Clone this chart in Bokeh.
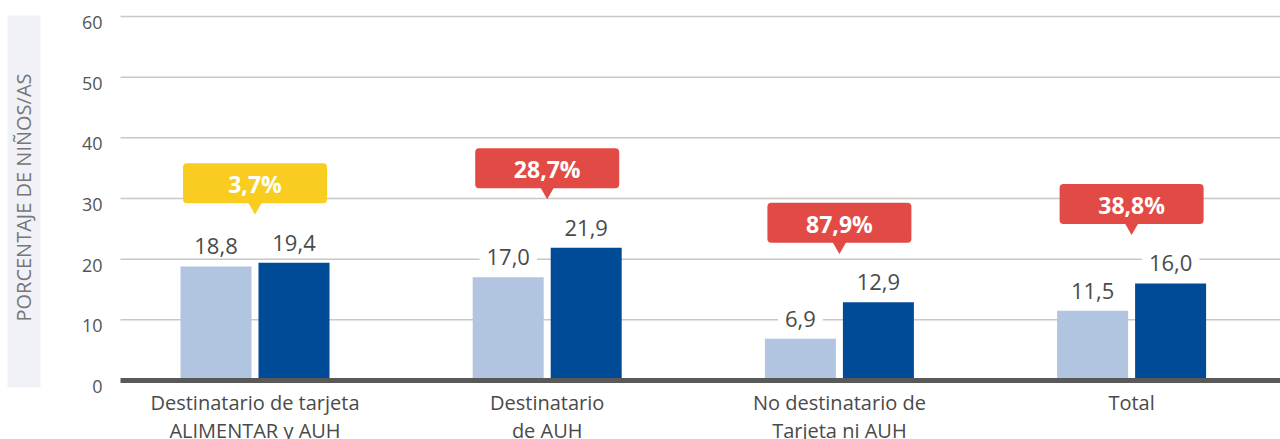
from bokeh.plotting import figure
from bokeh.models import Range1d
from bokeh.core.properties import value
from bokeh.embed import file_html
from bokeh.resources import INLINE
import math

# ---------------- data ----------------
categories = ["Destinatario de tarjeta\nALIMENTAR y AUH",
              "Destinatario\nde AUH",
              "No destinatario de\nTarjeta ni AUH",
              "Total"]
serie_a = [18.8, 17.0, 6.9, 11.5]      # light bars
serie_b = [19.4, 21.9, 12.9, 16.0]     # dark bars
variacion = ["3,7%", "28,7%", "87,9%", "38,8%"]
callout_colors = ["#f9cd1f", "#e24b45", "#e24b45", "#e24b45"]
y_ticks = [0, 10, 20, 30, 40, 50, 60]
y_title = "PORCENTAJE DE NIÑOS/AS"

# ---------------- layout (page pixels) ----------------
W, H = 1280, 439
PX_PER_CAT = 292.2
CAT1_PX = 254.5
ZERO_PY = 380.0
PX_PER_UNIT = 364.0 / 60.0

def x_at(px):
    return 1 + (px - CAT1_PX) / PX_PER_CAT

def y_at(py):
    return (ZERO_PY - py) / PX_PER_UNIT

LIGHT = "#b1c4e0"
DARK = "#004b97"
TXT = "#4a4a4a"
FONT = value("Open Sans")

xr = Range1d(x_at(0), x_at(W))
yr = Range1d(y_at(H), y_at(0))

p = figure(width=W, height=H, x_range=xr, y_range=yr,
           output_backend="svg", toolbar_location=None,
           x_axis_location=None, y_axis_location=None,
           min_border=0, outline_line_color=None,
           background_fill_color="white", border_fill_color="white")
for g in p.grid:
    g.visible = False

xs = [i + 1 for i in range(len(categories))]
off = 39.0 / PX_PER_CAT
bw = 71.0 / PX_PER_CAT
x_left = x_at(120)

# y-title box
p.quad(left=[x_at(7)], right=[x_at(40)], top=[y_at(15)], bottom=[y_at(387)],
       fill_color="#f1f2f8", line_color=None)
p.text(x=[x_at(23)], y=[y_at(197)], text=[y_title], angle=math.pi / 2,
       text_align="center", text_baseline="middle",
       text_font=FONT, text_font_size="20px", text_color="#767676")

# gridlines
grid_vals = [t for t in y_ticks if t != 0]
p.segment(x0=[x_left] * len(grid_vals), x1=[xr.end] * len(grid_vals),
          y0=grid_vals, y1=grid_vals, line_color="#c8c8c8", line_width=1.5)

# tick labels
p.text(x=[x_at(102)] * len(y_ticks), y=y_ticks, text=[str(t) for t in y_ticks],
       text_align="right", text_baseline="middle", y_offset=6,
       text_font=FONT, text_font_size="18px", text_color="#555555")

# bars
p.vbar(x=[x - off for x in xs], top=serie_a, bottom=0, width=bw,
       fill_color=LIGHT, line_color=None)
p.vbar(x=[x + off for x in xs], top=serie_b, bottom=0, width=bw,
       fill_color=DARK, line_color=None)

# zero line
p.segment(x0=[x_left], x1=[xr.end], y0=[0], y1=[0],
          line_color="#595959", line_width=5)

# value labels
fmt = lambda v: f"{v:.1f}".replace(".", ",")
p.text(x=[x - off for x in xs] + [x + off for x in xs],
       y=serie_a + serie_b,
       text=[fmt(v) for v in serie_a] + [fmt(v) for v in serie_b],
       text_align="center", text_baseline="bottom", y_offset=-12,
       text_font=FONT, text_font_size="22px", text_color=TXT,
       background_fill_color="white", padding=dict(x=7, y=0))

# category labels
p.text(x=xs, y=[0] * len(xs), text=categories,
       text_align="center", text_baseline="top", y_offset=8,
       text_font=FONT, text_font_size="20px", text_color=TXT,
       text_line_height=1.07)

# callouts
tops = [max(a, b) for a, b in zip(serie_a, serie_b)]
box_bottom = [t + 9.8 for t in tops]
box_center = [b + 20 / PX_PER_UNIT for b in box_bottom]
p.scatter(x=xs, y=[b - 1.3 / PX_PER_UNIT for b in box_bottom], marker="inverted_triangle",
          size=17, fill_color=callout_colors, line_color=None)
p.rect(x=xs, y=box_center, width=144, height=40,
       width_units="screen", height_units="screen",
       fill_color=callout_colors, line_color=None, border_radius=4)
p.text(x=xs, y=box_center, text=variacion,
       text_align="center", text_baseline="middle", y_offset=1,
       text_font=FONT, text_font_size="23px", text_font_style="bold",
       text_color="white")

open("out.html", "w").write(file_html(p, INLINE))
